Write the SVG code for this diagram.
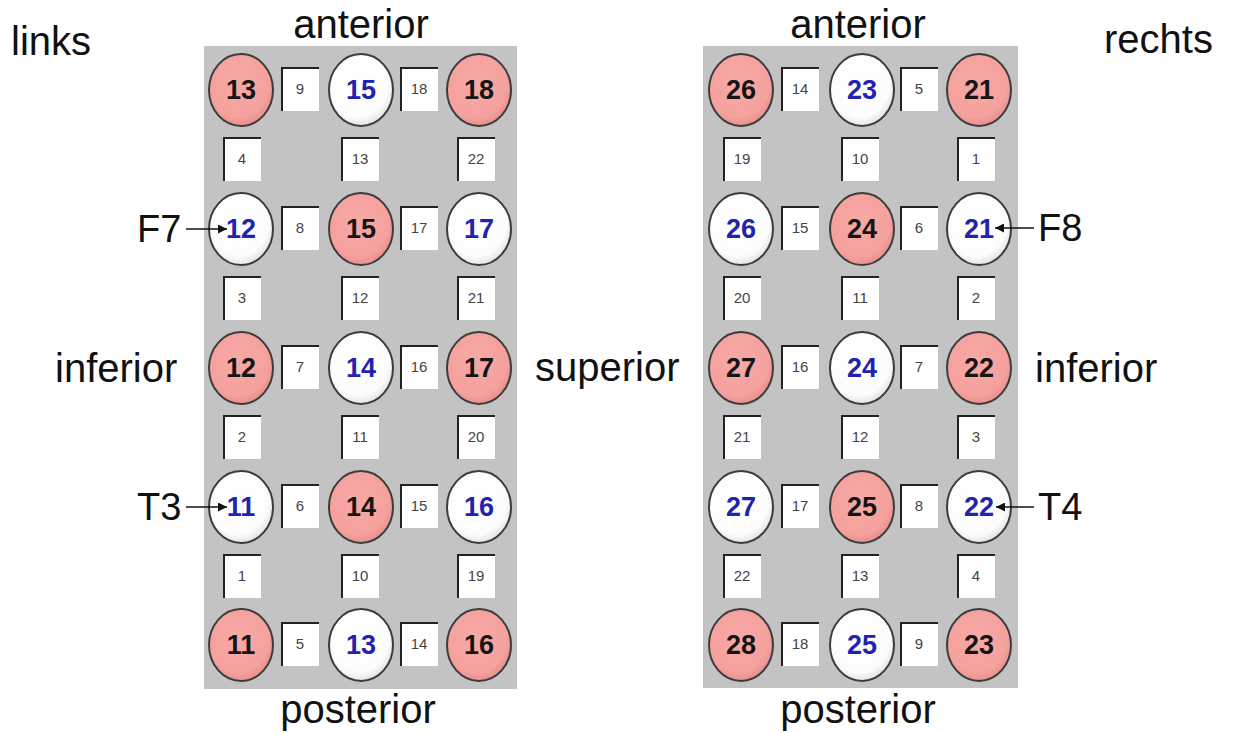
<svg xmlns="http://www.w3.org/2000/svg" width="1233" height="733" viewBox="0 0 1233 733">
<style>
.lbl{font-family:"Liberation Sans",Arial,sans-serif;font-size:40px;fill:#111}
.pl{font-family:"Liberation Sans",Arial,sans-serif;font-size:38px;fill:#111}
.panel{fill:#C3C3C3}
.cp{fill:url(#gp);stroke:#3c3c3c;stroke-width:2}
.cw{fill:url(#gw);stroke:#3c3c3c;stroke-width:2}
.tp{font-family:"Liberation Sans",Arial,sans-serif;font-size:27px;font-weight:bold;fill:#151515;text-anchor:middle}
.tw{font-family:"Liberation Sans",Arial,sans-serif;font-size:27px;font-weight:bold;fill:#2222B0;text-anchor:middle}
.bx{fill:#fff}
.be{fill:none;stroke:#222;stroke-width:2}
.tb{font-family:"Liberation Sans",Arial,sans-serif;font-size:15px;fill:#444;text-anchor:middle}
.arr{stroke:#111;stroke-width:1.6;fill:none;marker-end:url(#ah)}
</style>
<defs>
<radialGradient id="gp" cx="0.45" cy="0.4" r="0.6"><stop offset="0" stop-color="#F7A9A6"/><stop offset="0.8" stop-color="#F5A19D"/><stop offset="1" stop-color="#E8918D"/></radialGradient>
<radialGradient id="gw" cx="0.45" cy="0.4" r="0.6"><stop offset="0" stop-color="#FFFFFF"/><stop offset="0.8" stop-color="#FCFCFC"/><stop offset="1" stop-color="#E4E4E4"/></radialGradient>
<marker id="ah" viewBox="0 0 10 10" refX="10" refY="5" markerWidth="11" markerHeight="9" markerUnits="userSpaceOnUse" orient="auto"><path d="M0,0 L10,5 L0,10 z" fill="#111"/></marker>
<g id="bxproto"><rect class="bx" x="-19" y="-22" width="38" height="44"/><path class="be" d="M-18,22 V-21 H19"/></g>
</defs>
<rect width="1233" height="733" fill="#fff"/>

<g id="labels">
<text class="lbl" x="11" y="55">links</text>
<text class="lbl" x="361" y="38" text-anchor="middle">anterior</text>
<text class="lbl" x="858" y="38" text-anchor="middle">anterior</text>
<text class="lbl" x="1104" y="53">rechts</text>
<text class="lbl" x="358" y="723" text-anchor="middle">posterior</text>
<text class="lbl" x="858" y="723" text-anchor="middle">posterior</text>
<text class="lbl" x="55" y="382">inferior</text>
<text class="lbl" x="535" y="381">superior</text>
<text class="lbl" x="1035" y="382">inferior</text>
<text class="pl" x="137" y="242">F7</text>
<text class="pl" x="137" y="520">T3</text>
<text class="pl" x="1038" y="241">F8</text>
<text class="pl" x="1038" y="520">T4</text>
</g>

<rect id="panel-left" class="panel" x="204" y="46" width="313" height="643"/>
<rect id="panel-right" class="panel" x="703" y="46" width="315" height="642"/>

<!-- Left panel -->
<g id="L-r1">
<g id="L-c11"><ellipse class="cp" cx="241" cy="90" rx="32" ry="36"/><text class="tp" x="241" y="99">13</text></g>
<g id="L-b11"><use href="#bxproto" x="300" y="89"/><text class="tb" x="300" y="94">9</text></g>
<g id="L-c12"><ellipse class="cw" cx="361" cy="90" rx="32" ry="36"/><text class="tw" x="361" y="99">15</text></g>
<g id="L-b12"><use href="#bxproto" x="419" y="89"/><text class="tb" x="419" y="94">18</text></g>
<g id="L-c13"><ellipse class="cp" cx="479" cy="90" rx="32" ry="36"/><text class="tp" x="479" y="99">18</text></g>
</g>
<g id="L-m1">
<g id="L-v11"><use href="#bxproto" x="242" y="159"/><text class="tb" x="242" y="164">4</text></g>
<g id="L-v12"><use href="#bxproto" x="360" y="159"/><text class="tb" x="360" y="164">13</text></g>
<g id="L-v13"><use href="#bxproto" x="476" y="159"/><text class="tb" x="476" y="164">22</text></g>
</g>
<g id="L-r2">
<g id="L-c21"><ellipse class="cw" cx="241" cy="229" rx="32" ry="36"/><text class="tw" x="241" y="238">12</text></g>
<g id="L-b21"><use href="#bxproto" x="300" y="228"/><text class="tb" x="300" y="233">8</text></g>
<g id="L-c22"><ellipse class="cp" cx="361" cy="229" rx="32" ry="36"/><text class="tp" x="361" y="238">15</text></g>
<g id="L-b22"><use href="#bxproto" x="419" y="228"/><text class="tb" x="419" y="233">17</text></g>
<g id="L-c23"><ellipse class="cw" cx="479" cy="229" rx="32" ry="36"/><text class="tw" x="479" y="238">17</text></g>
</g>
<g id="L-m2">
<g id="L-v21"><use href="#bxproto" x="242" y="298"/><text class="tb" x="242" y="303">3</text></g>
<g id="L-v22"><use href="#bxproto" x="360" y="298"/><text class="tb" x="360" y="303">12</text></g>
<g id="L-v23"><use href="#bxproto" x="476" y="298"/><text class="tb" x="476" y="303">21</text></g>
</g>
<g id="L-r3">
<g id="L-c31"><ellipse class="cp" cx="241" cy="368" rx="32" ry="36"/><text class="tp" x="241" y="377">12</text></g>
<g id="L-b31"><use href="#bxproto" x="300" y="367"/><text class="tb" x="300" y="372">7</text></g>
<g id="L-c32"><ellipse class="cw" cx="361" cy="368" rx="32" ry="36"/><text class="tw" x="361" y="377">14</text></g>
<g id="L-b32"><use href="#bxproto" x="419" y="367"/><text class="tb" x="419" y="372">16</text></g>
<g id="L-c33"><ellipse class="cp" cx="479" cy="368" rx="32" ry="36"/><text class="tp" x="479" y="377">17</text></g>
</g>
<g id="L-m3">
<g id="L-v31"><use href="#bxproto" x="242" y="437"/><text class="tb" x="242" y="442">2</text></g>
<g id="L-v32"><use href="#bxproto" x="360" y="437"/><text class="tb" x="360" y="442">11</text></g>
<g id="L-v33"><use href="#bxproto" x="476" y="437"/><text class="tb" x="476" y="442">20</text></g>
</g>
<g id="L-r4">
<g id="L-c41"><ellipse class="cw" cx="241" cy="507" rx="32" ry="36"/><text class="tw" x="241" y="516">11</text></g>
<g id="L-b41"><use href="#bxproto" x="300" y="506"/><text class="tb" x="300" y="511">6</text></g>
<g id="L-c42"><ellipse class="cp" cx="361" cy="507" rx="32" ry="36"/><text class="tp" x="361" y="516">14</text></g>
<g id="L-b42"><use href="#bxproto" x="419" y="506"/><text class="tb" x="419" y="511">15</text></g>
<g id="L-c43"><ellipse class="cw" cx="479" cy="507" rx="32" ry="36"/><text class="tw" x="479" y="516">16</text></g>
</g>
<g id="L-m4">
<g id="L-v41"><use href="#bxproto" x="242" y="576"/><text class="tb" x="242" y="581">1</text></g>
<g id="L-v42"><use href="#bxproto" x="360" y="576"/><text class="tb" x="360" y="581">10</text></g>
<g id="L-v43"><use href="#bxproto" x="476" y="576"/><text class="tb" x="476" y="581">19</text></g>
</g>
<g id="L-r5">
<g id="L-c51"><ellipse class="cp" cx="241" cy="645" rx="32" ry="36"/><text class="tp" x="241" y="654">11</text></g>
<g id="L-b51"><use href="#bxproto" x="300" y="644"/><text class="tb" x="300" y="649">5</text></g>
<g id="L-c52"><ellipse class="cw" cx="361" cy="645" rx="32" ry="36"/><text class="tw" x="361" y="654">13</text></g>
<g id="L-b52"><use href="#bxproto" x="419" y="644"/><text class="tb" x="419" y="649">14</text></g>
<g id="L-c53"><ellipse class="cp" cx="479" cy="645" rx="32" ry="36"/><text class="tp" x="479" y="654">16</text></g>
</g>

<!-- Right panel -->
<g id="R-r1">
<g id="R-c11"><ellipse class="cp" cx="741" cy="90" rx="32" ry="36"/><text class="tp" x="741" y="99">26</text></g>
<g id="R-b11"><use href="#bxproto" x="800" y="89"/><text class="tb" x="800" y="94">14</text></g>
<g id="R-c12"><ellipse class="cw" cx="862" cy="90" rx="32" ry="36"/><text class="tw" x="862" y="99">23</text></g>
<g id="R-b12"><use href="#bxproto" x="919" y="89"/><text class="tb" x="919" y="94">5</text></g>
<g id="R-c13"><ellipse class="cp" cx="979" cy="90" rx="32" ry="36"/><text class="tp" x="979" y="99">21</text></g>
</g>
<g id="R-m1">
<g id="R-v11"><use href="#bxproto" x="742" y="159"/><text class="tb" x="742" y="164">19</text></g>
<g id="R-v12"><use href="#bxproto" x="860" y="159"/><text class="tb" x="860" y="164">10</text></g>
<g id="R-v13"><use href="#bxproto" x="976" y="159"/><text class="tb" x="976" y="164">1</text></g>
</g>
<g id="R-r2">
<g id="R-c21"><ellipse class="cw" cx="741" cy="229" rx="32" ry="36"/><text class="tw" x="741" y="238">26</text></g>
<g id="R-b21"><use href="#bxproto" x="800" y="228"/><text class="tb" x="800" y="233">15</text></g>
<g id="R-c22"><ellipse class="cp" cx="862" cy="229" rx="32" ry="36"/><text class="tp" x="862" y="238">24</text></g>
<g id="R-b22"><use href="#bxproto" x="919" y="228"/><text class="tb" x="919" y="233">6</text></g>
<g id="R-c23"><ellipse class="cw" cx="979" cy="229" rx="32" ry="36"/><text class="tw" x="979" y="238">21</text></g>
</g>
<g id="R-m2">
<g id="R-v21"><use href="#bxproto" x="742" y="298"/><text class="tb" x="742" y="303">20</text></g>
<g id="R-v22"><use href="#bxproto" x="860" y="298"/><text class="tb" x="860" y="303">11</text></g>
<g id="R-v23"><use href="#bxproto" x="976" y="298"/><text class="tb" x="976" y="303">2</text></g>
</g>
<g id="R-r3">
<g id="R-c31"><ellipse class="cp" cx="741" cy="368" rx="32" ry="36"/><text class="tp" x="741" y="377">27</text></g>
<g id="R-b31"><use href="#bxproto" x="800" y="367"/><text class="tb" x="800" y="372">16</text></g>
<g id="R-c32"><ellipse class="cw" cx="862" cy="368" rx="32" ry="36"/><text class="tw" x="862" y="377">24</text></g>
<g id="R-b32"><use href="#bxproto" x="919" y="367"/><text class="tb" x="919" y="372">7</text></g>
<g id="R-c33"><ellipse class="cp" cx="979" cy="368" rx="32" ry="36"/><text class="tp" x="979" y="377">22</text></g>
</g>
<g id="R-m3">
<g id="R-v31"><use href="#bxproto" x="742" y="437"/><text class="tb" x="742" y="442">21</text></g>
<g id="R-v32"><use href="#bxproto" x="860" y="437"/><text class="tb" x="860" y="442">12</text></g>
<g id="R-v33"><use href="#bxproto" x="976" y="437"/><text class="tb" x="976" y="442">3</text></g>
</g>
<g id="R-r4">
<g id="R-c41"><ellipse class="cw" cx="741" cy="507" rx="32" ry="36"/><text class="tw" x="741" y="516">27</text></g>
<g id="R-b41"><use href="#bxproto" x="800" y="506"/><text class="tb" x="800" y="511">17</text></g>
<g id="R-c42"><ellipse class="cp" cx="862" cy="507" rx="32" ry="36"/><text class="tp" x="862" y="516">25</text></g>
<g id="R-b42"><use href="#bxproto" x="919" y="506"/><text class="tb" x="919" y="511">8</text></g>
<g id="R-c43"><ellipse class="cw" cx="979" cy="507" rx="32" ry="36"/><text class="tw" x="979" y="516">22</text></g>
</g>
<g id="R-m4">
<g id="R-v41"><use href="#bxproto" x="742" y="576"/><text class="tb" x="742" y="581">22</text></g>
<g id="R-v42"><use href="#bxproto" x="860" y="576"/><text class="tb" x="860" y="581">13</text></g>
<g id="R-v43"><use href="#bxproto" x="976" y="576"/><text class="tb" x="976" y="581">4</text></g>
</g>
<g id="R-r5">
<g id="R-c51"><ellipse class="cp" cx="741" cy="645" rx="32" ry="36"/><text class="tp" x="741" y="654">28</text></g>
<g id="R-b51"><use href="#bxproto" x="800" y="644"/><text class="tb" x="800" y="649">18</text></g>
<g id="R-c52"><ellipse class="cw" cx="862" cy="645" rx="32" ry="36"/><text class="tw" x="862" y="654">25</text></g>
<g id="R-b52"><use href="#bxproto" x="919" y="644"/><text class="tb" x="919" y="649">9</text></g>
<g id="R-c53"><ellipse class="cp" cx="979" cy="645" rx="32" ry="36"/><text class="tp" x="979" y="654">23</text></g>
</g>

<g id="connectors">
<line class="arr" x1="186" y1="229" x2="227" y2="229"/>
<line class="arr" x1="186" y1="507" x2="227" y2="507"/>
<line class="arr" x1="1034" y1="228" x2="995" y2="228"/>
<line class="arr" x1="1034" y1="507" x2="996" y2="507"/>
</g>
</svg>
